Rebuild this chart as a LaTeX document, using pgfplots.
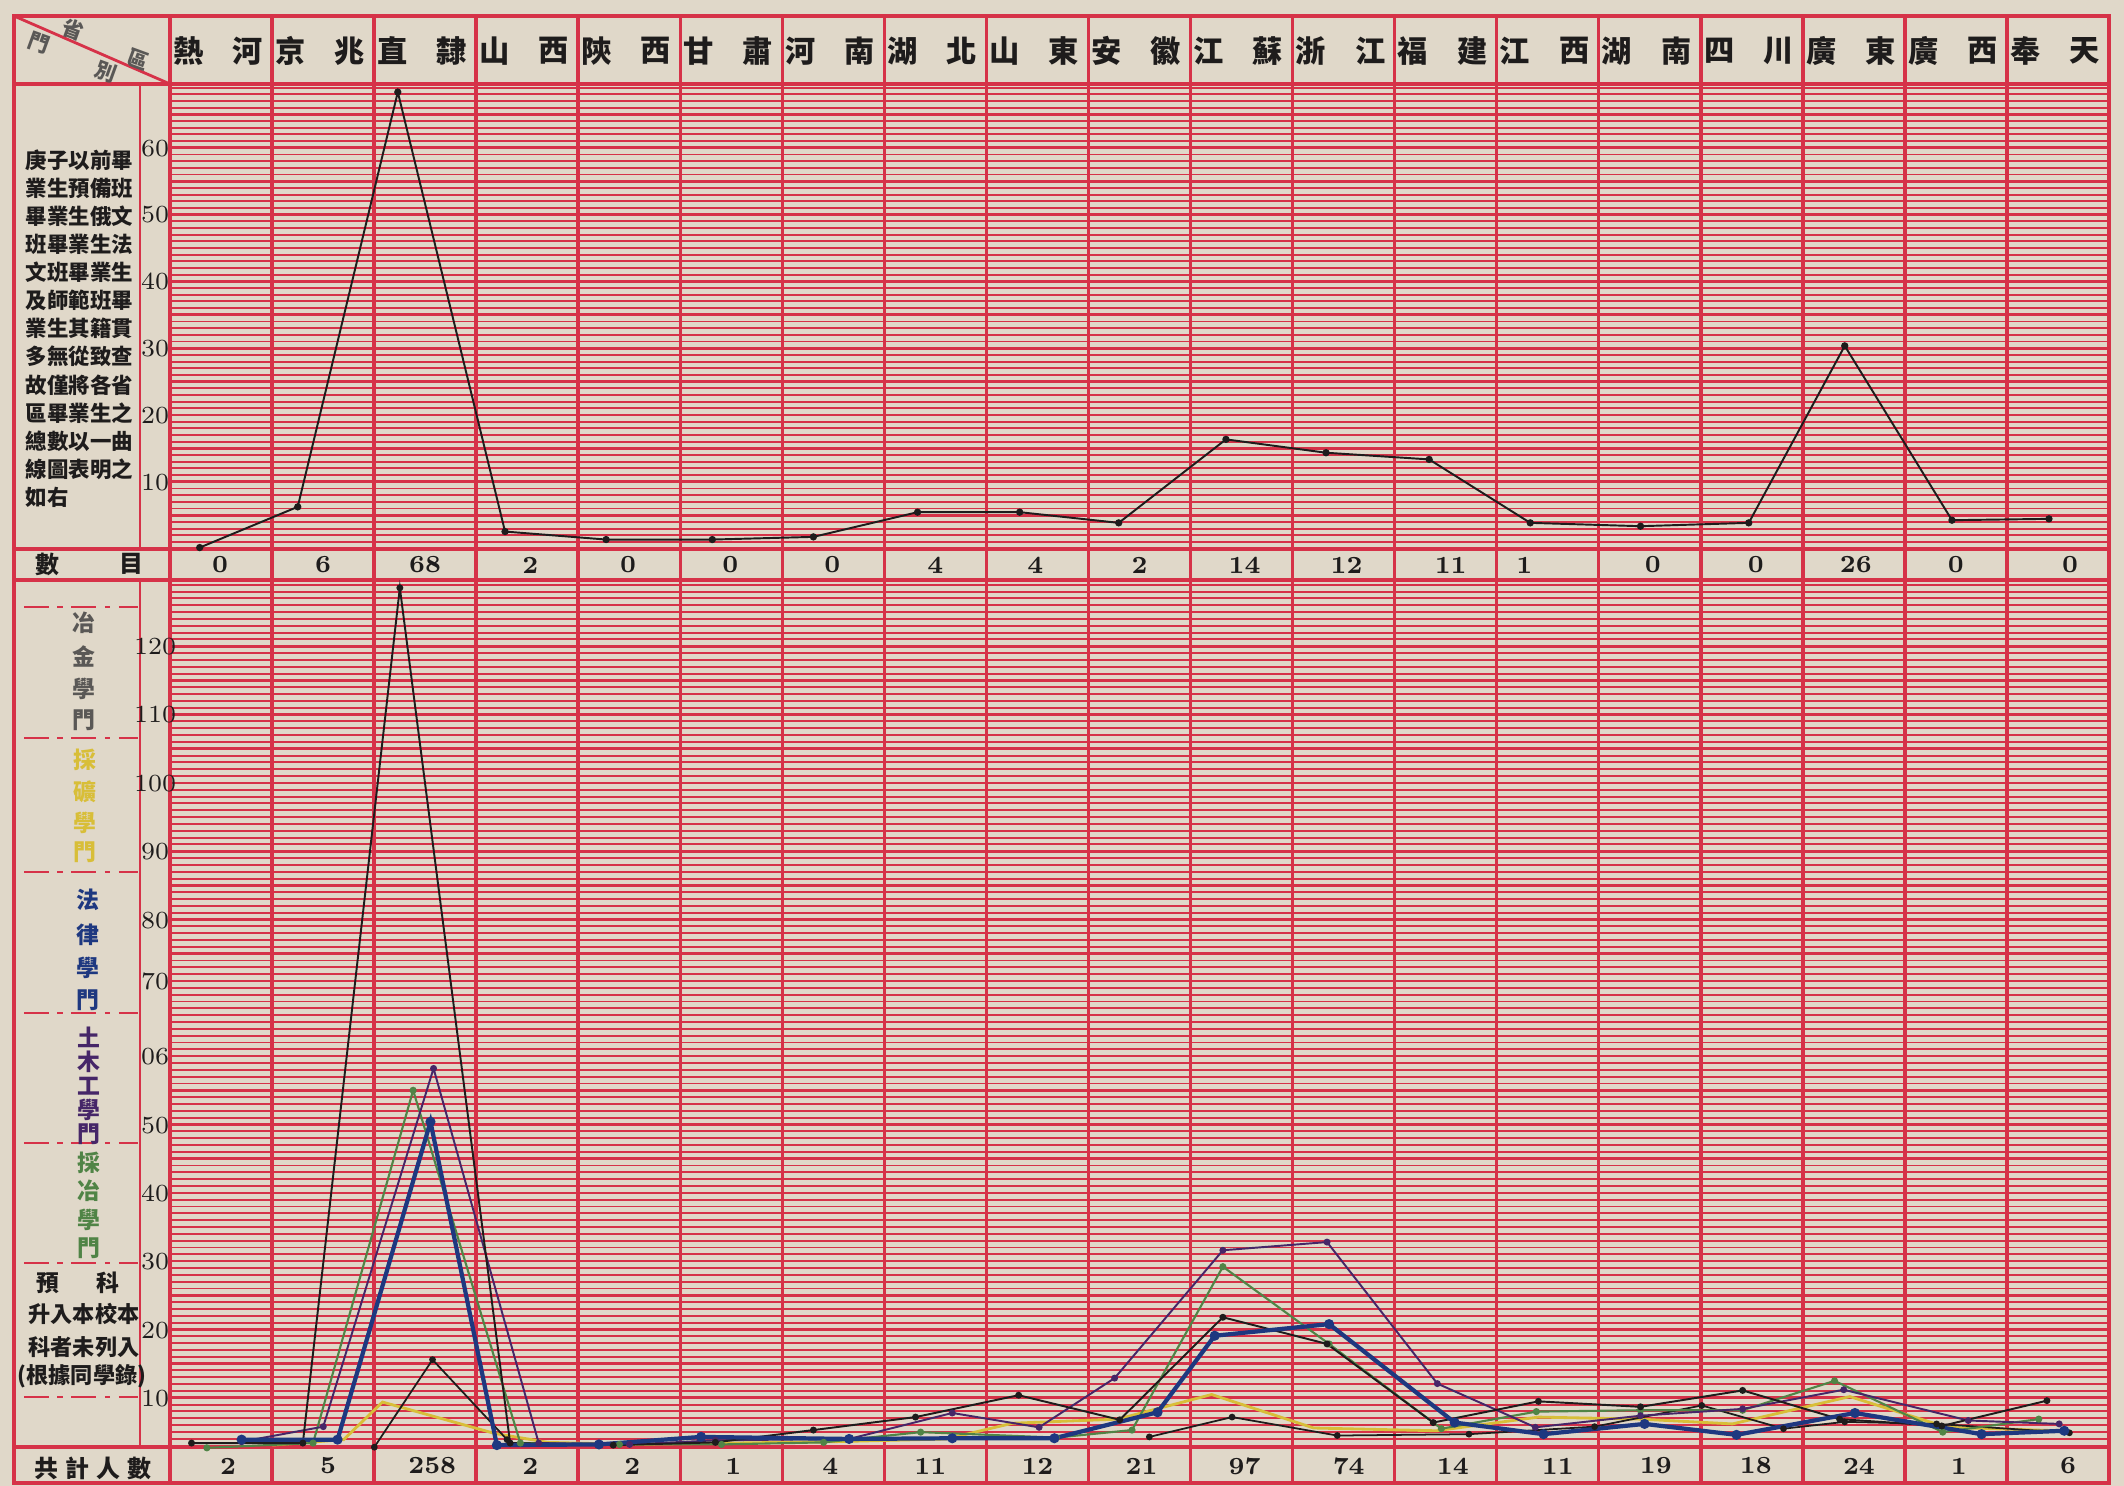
\documentclass[border=0pt]{standalone}
\usepackage{pgfplots}
\pgfplotsset{compat=1.18}
\usepackage{fontspec}
\newfontfamily\cjk{Noto Sans CJK TC}
\definecolor{paper}{RGB}{224,216,201}
\definecolor{rl}{RGB}{214,50,72}
\definecolor{ink}{RGB}{30,28,28}
\definecolor{cpurple}{RGB}{70,38,104}
\definecolor{cgreen}{RGB}{80,132,70}
\definecolor{cblue}{RGB}{30,56,128}
\definecolor{cyellow}{RGB}{216,190,56}
\definecolor{cgray}{RGB}{90,88,86}
\newcommand{\cf}[1]{\cjk\bfseries\fontsize{#1}{#1}\selectfont}
\begin{document}
\begin{tikzpicture}
\begin{scope}[x=0.01cm,y=-0.01cm]
\fill[paper] (0,0) rectangle (2124,1486);
\useasboundingbox (0,0) rectangle (2124,1486);
% rulings
\foreach \k in {1,...,69} {\draw[rl,line width=0.55pt] (171,{548.6-6.68*\k}) -- (2108,{548.6-6.68*\k});}
\foreach \k in {5,10,...,65} {\draw[rl,line width=0.75pt] (171,{548.6-6.68*\k}) -- (2108,{548.6-6.68*\k});}
\foreach \k in {3,...,129} {\draw[rl,line width=0.55pt] (171,{1466.1-6.832*\k}) -- (2108,{1466.1-6.832*\k});}
\foreach \k in {5,10,...,125} {\draw[rl,line width=0.75pt] (171,{1466.1-6.832*\k}) -- (2108,{1466.1-6.832*\k});}
% frame
\foreach \i in {0,...,19} {\draw[rl,line width=1.0pt] ({170+102.05*\i},16) -- ({170+102.05*\i},1483);}
\foreach \yy in {84,549,580,1447} {\draw[rl,line width=1.1pt] (14,\yy) -- (2109,\yy);}
\draw[rl,line width=1.3pt] (14,16) rectangle (2109,1483);
\draw[rl,line width=0.8pt] (140,84) -- (140,549);
\draw[rl,line width=0.8pt] (140,580) -- (140,1447);
\draw[rl,line width=0.8pt] (14,16) -- (170,84);
% corner labels
\node[text=cgray,rotate=-20] at (39,43) {\cf{6}門};
\node[text=cgray,rotate=-20] at (73,30) {\cf{6}省};
\node[text=cgray,rotate=-20] at (138,60) {\cf{6}區};
\node[text=cgray,rotate=-20] at (106,72) {\cf{6}別};
% header provinces
\foreach \a/\b [count=\i from 0] in {熱/河,京/兆,直/隸,山/西,陝/西,甘/肅,河/南,湖/北,山/東,安/徽,江/蘇,浙/江,福/建,江/西,湖/南,四/川,廣/東,廣/西,奉/天} {
  \node[text=ink] at ({170+102.05*(\i+0.18)},51) {\cf{8.6}\a};
  \node[text=ink] at ({170+102.05*(\i+0.76)},51) {\cf{8.6}\b};
}
% left description
\foreach \t [count=\j from 0] in {庚子以前畢,業生預備班,畢業生俄文,班畢業生法,文班畢業生,及師範班畢,業生其籍貫,多無從致查,故僅將各省,區畢業生之,總數以一曲,線圖表明之,如右} {
  \node[anchor=west,inner sep=0,text=ink] at (25,{160+28.1*\j}) {\cf{6.1}\t};
}
\node[text=ink] at (47,564) {\cf{6.8}數};
\node[text=ink] at (131,564) {\cf{6.8}目};
% number row
\foreach \n/\f [count=\i from 0] in {0/0.49,6/0.5,68/0.5,2/0.53,0/0.49,0/0.49,0/0.49,4/0.5,4/0.48,2/0.5,14/0.53,12/0.53,11/0.55,1/0.27,0/0.53,0/0.54,26/0.52,0/0.5,0/0.62} {
  \node[text=ink,font=\fontsize{7}{7}\selectfont\bfseries] at ({170+102.05*(\i+\f)},565) {\n};
}
% totals row
\foreach \n/\f [count=\i from 0] in {2/0.57,5/0.55,258/0.57,2/0.53,2/0.53,1/0.52,4/0.47,11/0.45,12/0.5,21/0.52,97/0.53,74/0.55,14/0.57,11/0.6,19/0.56,18/0.54,24/0.55,1/0.53,6/0.6} {
  \node[text=ink,font=\fontsize{7}{7}\selectfont\bfseries] at ({170+102.05*(\i+\f)},1466) {\n};
}
\foreach \c [count=\j from 0] in {共,計,人,數} {\node[text=ink] at ({46+31*\j},1468) {\cf{6.8}\c};}
% category separators
\foreach \yy in {607,738,872,1013,1143,1263,1397} {
  \draw[rl,line width=0.7pt,dash pattern=on 7pt off 2.5pt on 1.5pt off 2.5pt] (24,\yy) -- (138,\yy);
}
\foreach \c/\yy in {冶/623,金/656,學/689,門/720} {\node[text=cgray] at (84,\yy) {\cf{6.5}\c};}
\foreach \c/\yy in {採/760,礦/792,學/823,門/852} {\node[text=cyellow] at (85,\yy) {\cf{6.5}\c};}
\foreach \c/\yy in {法/900,律/935,學/968,門/1000} {\node[text=cblue] at (88,\yy) {\cf{6.5}\c};}
\foreach \c/\yy in {土/1037,木/1062,工/1086,學/1110,門/1134} {\node[text=cpurple] at (89,\yy) {\cf{6.5}\c};}
\foreach \c/\yy in {採/1163,冶/1191,學/1220,門/1248} {\node[text=cgreen] at (89,\yy) {\cf{6.5}\c};}
\node[text=ink] at (48,1283) {\cf{6.5}預};
\node[text=ink] at (108,1283) {\cf{6.5}科};
\node[text=ink] at (84,1314) {\cf{6.3}升入本校本};
\node[text=ink] at (84,1347) {\cf{6.3}科者未列入};
\node[text=ink] at (82,1376) {\cf{6.3}(根據同學錄)};
\end{scope}

% ---------- top panel ----------
\begin{axis}[at={(1.70cm,-5.486cm)},anchor=south west,scale only axis,
  width=19.39cm,height=4.646cm,xmin=0,xmax=19,ymin=0,ymax=69.6,
  axis line style={draw=none},xtick=\empty,ytick={10,20,...,60},
  major tick length=0pt,clip=false,
  yticklabel style={font=\fontsize{7}{7}\selectfont,anchor=center,xshift=-0.15cm,text=ink}]
\addplot[ink,line width=0.55pt,mark=*,mark size=0.75pt] coordinates {
(0.29,0.2) (1.25,6.3) (2.23,68.4) (3.28,2.6) (4.27,1.4) (5.31,1.4) (6.30,1.8) (7.32,5.5) (8.32,5.5) (9.29,3.9) (10.34,16.4) (11.32,14.4) (12.33,13.4) (13.32,3.9) (14.40,3.4) (15.46,3.9) (16.40,30.4) (17.45,4.3) (18.40,4.5)};
\end{axis}

% ---------- bottom panel ----------
\begin{axis}[at={(1.70cm,-14.47cm)},anchor=south west,scale only axis,
  width=19.39cm,height=8.67cm,xmin=0,xmax=19,ymin=2.8,ymax=129.7,
  axis line style={draw=none},xtick=\empty,
  ytick={10,20,30,40,50,60,71,80,90,100,110,120},
  yticklabels={10,20,30,40,50,06,70,80,90,100,110,120},
  major tick length=0pt,clip=false,
  yticklabel style={font=\fontsize{7}{7}\selectfont,anchor=center,xshift=-0.15cm,text=ink}]
% 採礦 (yellow)
\addplot[cyellow,line width=0.8pt] coordinates {
(1.0,3.2) (1.70,4.0) (2.08,9.5) (3.18,4.9) (3.7,3.6) (4.5,3.3) (5.5,3.5) (6.5,3.7) (7.6,4.1) (8.25,6.4) (9.28,7.0) (10.2,10.6) (11.2,5.7) (12.4,5.3) (13.4,7.3) (14.4,7.0) (15.3,6.3) (16.45,10.3) (17.4,5.8) (18.5,5.3)};
% 預科 (black)
\addplot[ink,line width=0.5pt,mark=*,mark size=0.7pt] coordinates {
(2.0,2.9) (2.57,15.7) (3.3,4.0)};
\addplot[ink,line width=0.5pt,mark=*,mark size=0.7pt] coordinates {
(9.59,4.4) (10.4,7.3) (11.43,4.6) (12.72,4.8) (13.95,5.9) (15.0,9.0) (15.8,5.6) (16.4,6.6) (17.3,6.3) (18.6,5.0)};
% 採冶 (green)
\addplot[cgreen,line width=0.6pt,mark=*,mark size=0.7pt] coordinates {
(0.36,2.8) (1.40,3.5) (2.38,55.1) (3.43,3.5) (4.4,3.3) (5.4,3.3) (6.4,3.6) (7.35,5.1) (8.68,4.3) (9.42,5.4) (10.31,29.3) (11.35,18.0) (12.45,5.6) (13.38,8.1) (14.4,8.3) (15.4,8.3) (16.3,12.6) (17.36,5.1) (18.3,7.0)};
% 土木工 (purple)
\addplot[cpurple,line width=0.55pt,mark=*,mark size=0.7pt] coordinates {
(0.70,3.7) (1.50,5.9) (2.58,58.3) (3.61,3.5) (4.5,3.3) (5.34,3.9) (6.65,4.1) (7.66,7.9) (8.51,5.8) (9.25,13.0) (10.31,31.7) (11.33,32.9) (12.41,12.2) (13.37,5.8) (14.4,7.5) (15.4,8.5) (16.39,11.3) (17.61,6.8) (18.5,6.3)};
% 冶金 (black)
\addplot[ink,line width=0.55pt,mark=*,mark size=0.7pt] coordinates {
(0.21,3.5) (1.30,3.5) (2.25,128.6) (3.33,3.5) (4.34,3.2) (5.34,3.6) (6.30,5.4) (7.30,7.3) (8.31,10.5) (9.30,6.9) (10.31,21.9) (11.33,18.0) (12.37,6.5) (13.40,9.6) (14.40,8.8) (15.40,11.2) (16.35,7.0) (17.35,6.0) (18.38,9.7)};
% 法律 (blue, thick)
\addplot[cblue,line width=1.2pt,mark=*,mark size=0.8pt] coordinates {
(0.70,4.0) (1.64,4.0) (2.55,50.5) (3.20,3.2) (4.2,3.3) (5.2,4.4) (6.65,4.1) (7.66,4.2) (8.66,4.2) (9.67,8.0) (10.23,19.2) (11.35,20.9) (12.58,6.5) (13.45,4.8) (14.44,6.3) (15.34,4.7) (16.5,7.9) (17.74,4.8) (18.55,5.3)};
\end{axis}
\end{tikzpicture}
\end{document}
